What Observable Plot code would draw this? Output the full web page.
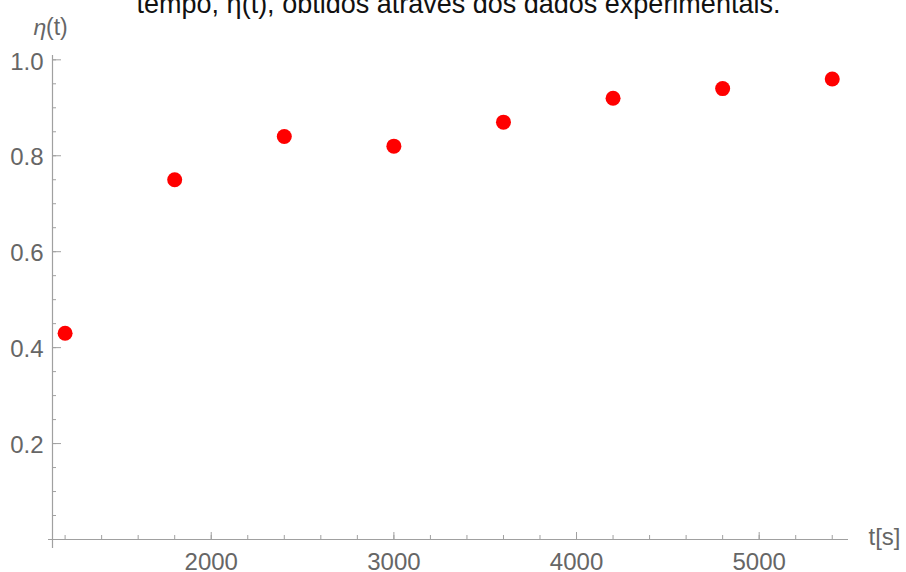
<!DOCTYPE html>
<html>
<head>
<meta charset="utf-8">
<script src="https://cdn.jsdelivr.net/npm/d3@7"></script>
<script src="https://cdn.jsdelivr.net/npm/@observablehq/plot@0.6"></script>
<style>
  html, body { margin: 0; padding: 0; background: #fff; }
  #chart { width: 906px; height: 572px; overflow: hidden; }
</style>
</head>
<body>
<div id="chart"></div>
<script>
// Data
const timeSeconds = [1200, 1800, 2400, 3000, 3600, 4200, 4800, 5400];
const etaValues   = [0.43, 0.75, 0.84, 0.82, 0.87, 0.92, 0.94, 0.96];

// Axes
const xMajorTicks = [2000, 3000, 4000, 5000];
const xMinorTicks = d3.range(1200, 5401, 200);
const yMajorTicks = [0.2, 0.4, 0.6, 0.8, 1.0];
const yMinorTicks = d3.range(1, 21).map(i => i * 0.05);
const xDomain = [1131, 5489];
const yDomain = [0, 1.009];

// Texts
const titleText = "tempo, η(t), obtidos através dos dados experimentais.";
const yLabelEta = "η";
const yLabelRest = "(t)";
const xLabelText = "t[s]";

const points = timeSeconds.map((t, i) => ({t, eta: etaValues[i]}));

const font = "'Liberation Sans', Arial, sans-serif";
const axisColor = "#a0a0a0";
const labelColor = "#666666";

const chart = Plot.plot({
  width: 906,
  height: 572,
  marginLeft: 52,
  marginRight: 58,
  marginTop: 55,
  marginBottom: 33,
  style: {fontFamily: font, background: "#fff", overflow: "visible"},
  x: {domain: xDomain},
  y: {domain: yDomain},
  marks: [
    // axis lines (Mathematica style, slightly overshooting)
    Plot.ruleX([xDomain[0]], {stroke: axisColor, strokeWidth: 1.2, insetBottom: -9}),
    Plot.ruleY([0], {stroke: axisColor, strokeWidth: 1.2, insetLeft: -4}),
    // x ticks (inward)
    Plot.axisX(xMinorTicks, {tickSize: -4, stroke: axisColor, fill: "none", label: null}),
    Plot.axisX(xMajorTicks, {tickSize: -7, stroke: axisColor, fill: "none", label: null}),
    Plot.axisX(xMajorTicks, {tickSize: 0, tickPadding: 13, fontSize: 24, fill: labelColor,
                             tickFormat: d3.format("d"), label: null}),
    // y ticks (inward)
    Plot.axisY(yMinorTicks, {tickSize: -4, stroke: axisColor, fill: "none", label: null}),
    Plot.axisY(yMajorTicks, {tickSize: -9, stroke: axisColor, fill: "none", label: null}),
    Plot.axisY(yMajorTicks, {tickSize: 0, tickPadding: 9, fontSize: 24, fill: labelColor, dy: 2,
                             tickFormat: d3.format(".1f"), label: null}),
    // data points
    Plot.dot(points, {x: "t", y: "eta", r: 7.5, fill: "#ff0000", stroke: "none"}),
    // axis labels
    Plot.text([yLabelEta], {frameAnchor: "top-left", lineAnchor: "middle", text: d => d, textAnchor: "start",
      dx: -19, dy: -27.5, fontSize: 23, fontStyle: "italic", fill: labelColor}),
    Plot.text([yLabelRest], {frameAnchor: "top-left", lineAnchor: "middle", text: d => d, textAnchor: "start",
      dx: -6.5, dy: -27.5, fontSize: 23, fill: labelColor}),
    Plot.text([xLabelText], {frameAnchor: "bottom-right", lineAnchor: "middle", text: d => d, textAnchor: "start",
      dx: 20, dy: -2, fontSize: 24, fill: labelColor}),
    // title (cut off at the top as in the reference)
    Plot.text([titleText], {frameAnchor: "top", lineAnchor: "middle", text: d => d, textAnchor: "middle",
      dx: 8, dy: -51.6, fontSize: 27, fill: "#111"})
  ]
});
document.getElementById("chart").appendChild(chart);
</script>
</body>
</html>
